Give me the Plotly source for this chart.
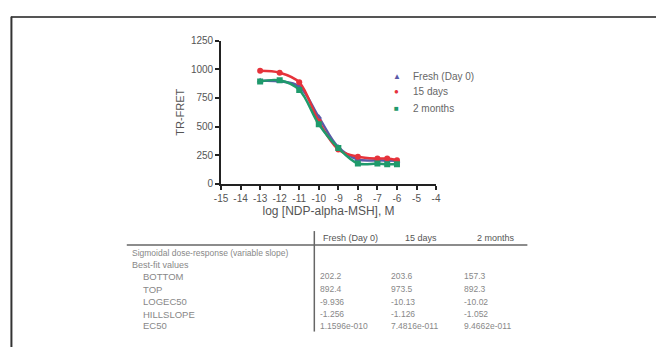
import plotly.graph_objects as go

W, H = 661, 353

# ---- data ----
log_conc = [-13, -12, -11, -10, -9, -8, -7, -6.5, -6]
fresh = [900, 895, 850, 583, 320, 212, 205, 203, 202]
days15 = [988, 971, 887, 545, 300, 236, 220, 220, 205]
months2 = [895, 904, 820, 520, 313, 177, 177, 170, 170]
series_names = ["Fresh (Day 0)", "15 days", "2 months"]

x_ticks = list(range(-15, -3))
y_ticks = [0, 250, 500, 750, 1000, 1250]

table_cols = ["Fresh (Day 0)", "15 days", "2 months"]
row_labels = ["BOTTOM", "TOP", "LOGEC50", "HILLSLOPE", "EC50"]
fresh_vals = ["202.2", "892.4", "-9.936", "-1.256", "1.1596e-010"]
d15_vals = ["203.6", "973.5", "-10.13", "-1.126", "7.4816e-011"]
m2_vals = ["157.3", "892.3", "-10.02", "-1.052", "9.4662e-011"]


def px(x):
    return x / W


def py(y):
    return (H - y) / H


colors = ["#5a5aa8", "#e6333b", "#1f9a6c"]
symbols = ["triangle-up", "circle", "square"]
legend_glyphs = ["▲", "●", "■"]

fig = go.Figure()
for name, vals, c, s in zip(series_names, [fresh, days15, months2], colors, symbols):
    fig.add_trace(go.Scatter(
        x=log_conc, y=vals, name=name, mode="lines+markers", showlegend=False,
        line=dict(color=c, width=2.5, shape="spline", smoothing=1.0),
        marker=dict(color=c, symbol=s, size=6),
    ))

font_family = "Liberation Sans, Arial, sans-serif"
fig.update_layout(
    width=W, height=H,
    margin=dict(l=0, r=0, t=0, b=0),
    paper_bgcolor="white", plot_bgcolor="white",
    font=dict(family=font_family, size=9, color="#555"),
    xaxis=dict(domain=[px(218), px(437)], range=[-15, -4], tickvals=x_ticks,
               ticktext=[str(v) for v in x_ticks],
               showline=True, linecolor="#222", linewidth=1.8, ticks="outside",
               ticklen=4, tickwidth=1.8, tickcolor="#222", showgrid=False, zeroline=False,
               tickfont=dict(size=10, color="#555"),
               title=dict(text="log [NDP-alpha-MSH], M", font=dict(size=12, color="#555"), standoff=2)),
    yaxis=dict(domain=[py(184), py(36)], range=[0, 1250], tickvals=y_ticks,
               showline=True, linecolor="#222", linewidth=1.8, ticks="outside",
               ticklen=4, tickwidth=1.8, tickcolor="#222", showgrid=False, zeroline=False,
               tickfont=dict(size=10, color="#555"),
               title=dict(text="TR-FRET", font=dict(size=11, color="#555"), standoff=4)),
    showlegend=False,
)

shapes = [
    dict(type="line", xref="paper", yref="paper", x0=px(4), x1=px(661), y0=py(11.5), y1=py(11.5),
         line=dict(color="#555", width=2)),
    dict(type="line", xref="paper", yref="paper", x0=px(4.5), x1=px(4.5), y0=py(11), y1=py(353),
         line=dict(color="#333", width=2)),
    dict(type="line", xref="paper", yref="paper", x0=px(122), x1=px(530), y0=py(247.5), y1=py(247.5),
         line=dict(color="#666", width=1.5)),
    dict(type="line", xref="paper", yref="paper", x0=px(313), x1=px(313), y0=py(233), y1=py(337),
         line=dict(color="#666", width=1.5)),
]

ann = []


def txt(x, y, t, size=9, color="#888"):
    ann.append(dict(xref="paper", yref="paper", x=px(x), y=py(y), text=t, showarrow=False,
                    xanchor="left", yanchor="middle", font=dict(size=size, color=color)))


# legend drawn as text glyphs + labels
legend_y = [73, 89, 106]
for g, name, c, ly in zip(legend_glyphs, series_names, colors, legend_y):
    ann.append(dict(xref="paper", yref="paper", x=px(397), y=py(ly), text=g, showarrow=False,
                    xanchor="center", yanchor="middle", font=dict(size=8, color=c)))
    txt(411, ly, name, size=10, color="#666")

header_x = [320, 403, 477]
for hx, h in zip(header_x, table_cols):
    txt(hx, 240, h, size=9, color="#555")
txt(125, 256, "Sigmoidal dose-response (variable slope)", size=8.5)
txt(125, 268, "Best-fit values", size=9)
row_y = [280, 293, 306, 319, 331]
val_x = [317, 389, 463]
for i, (lab, ry) in enumerate(zip(row_labels, row_y)):
    txt(136, ry, lab, size=9.5)
    for vx, col in zip(val_x, [fresh_vals, d15_vals, m2_vals]):
        txt(vx, ry, col[i], size=8.5)

fig.update_layout(shapes=shapes, annotations=ann)
fig.write_html("out.html", config={"displayModeBar": False},
               post_script="document.body.style.margin='0';")
